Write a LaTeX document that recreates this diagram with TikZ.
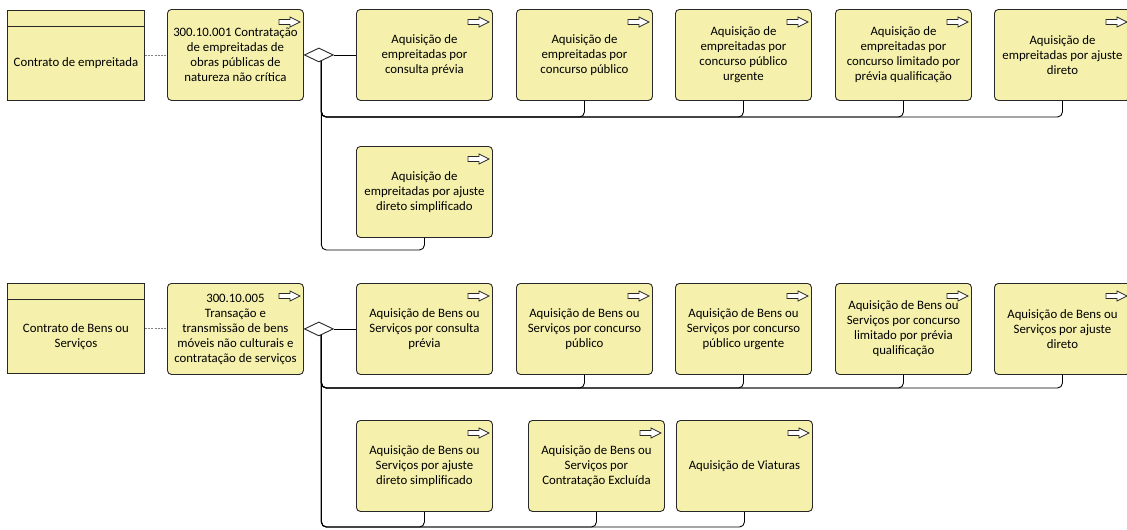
\documentclass[tikz,border=0pt]{standalone}
\usepackage{fontspec}
\setmainfont{Carlito}
\usetikzlibrary{shapes.geometric}
\definecolor{bizfill}{RGB}{245,241,172}
\definecolor{edgecol}{RGB}{40,40,40}
% small hollow "process" arrow in the top right corner of a box
\newcommand\procicon[1]{%
  \draw[fill=white, draw=edgecol, line width=0.8pt]
    ([shift={(-25pt,-10.5pt)}]#1.north east) -- ++(11pt,0pt) -- ++(0pt,2.5pt)
    -- ++(10pt,-5pt) -- ++(-10pt,-5pt) -- ++(0pt,2.5pt) -- ++(-11pt,0pt) -- cycle;}
\begin{document}
\begin{tikzpicture}[x=1pt,y=-1pt,
  txt/.style={font=\fontsize{12.8pt}{15pt}\selectfont, align=center},
  proc/.style={txt, draw=edgecol, line width=0.9pt, fill=bizfill, rounded corners=4pt,
    minimum width=136pt, minimum height=91pt, inner sep=0pt, anchor=north west},
  contract/.style={draw=edgecol, line width=0.9pt, fill=bizfill,
    minimum width=137pt, minimum height=90pt, inner sep=0pt, anchor=north west},
  agg/.style={diamond, draw=edgecol, fill=white, line width=0.9pt,
    minimum width=29pt, minimum height=14pt, inner sep=0pt, anchor=west},
  conn/.style={draw=black, line width=0.9pt, rounded corners=5pt},
  assoc/.style={draw=gray, line width=0.8pt, dash pattern=on 2pt off 1.2pt}]
\useasboundingbox (0,0) rectangle (1127,530);
\clip (0,0) rectangle (1127,530);

% ---------- contract for works ----------
\node[contract] (k1) at (7,10) {};
\draw[edgecol, line width=0.9pt] ([yshift=-16pt]k1.north west) -- ([yshift=-16pt]k1.north east);
\node[txt] (k1t) at ([yshift=-8pt]k1.center) {Contrato de empreitada};

\node[proc] (p1) at (167,9) {300.10.001 Contratação\\de empreitadas de\\obras públicas de\\natureza não crítica};
\node[proc] (a1) at (356,9) {Aquisição de\\empreitadas por\\consulta prévia};
\node[proc] (a2) at (516,9) {Aquisição de\\empreitadas por\\concurso público};
\node[proc] (a3) at (675,9) {Aquisição de\\empreitadas por\\concurso público\\urgente};
\node[proc] (a4) at (835,9) {Aquisição de\\empreitadas por\\concurso limitado por\\prévia qualificação};
\node[proc] (a5) at (994,9) {Aquisição de\\empreitadas por ajuste\\direto};
\node[proc] (r1) at (356,146) {Aquisição de\\empreitadas por ajuste\\direto simplificado};
\foreach \n in {p1,a1,a2,a3,a4,a5,r1} {\procicon{\n}}

\coordinate (h1) at (0,117);
\coordinate (v1) at (0,250);
\draw[assoc] (k1.east) -- (k1.east -| p1.west);
\node[agg] (d1) at (p1.east) {};
\coordinate (s1) at ([xshift=2.5pt,yshift=1.2pt]d1.south);
\draw[conn] (d1.east) -- (a1.west);
\foreach \n in {a2,a3,a4,a5} {\draw[conn] (s1) |- (\n.south |- h1) -- (\n.south);}
\draw[conn] (s1) |- (r1.south |- v1) -- (r1.south);

% ---------- contract for goods and services ----------
\node[contract] (k2) at (7,283) {};
\draw[edgecol, line width=0.9pt] ([yshift=-16pt]k2.north west) -- ([yshift=-16pt]k2.north east);
\node[txt] (k2t) at ([yshift=-8pt]k2.center) {Contrato de Bens ou\\Serviços};

\node[proc] (p2) at (167,283) {300.10.005\\Transação e\\transmissão de bens\\móveis não culturais e\\contratação de serviços};
\node[proc] (b1) at (356,283) {Aquisição de Bens ou\\Serviços por consulta\\prévia};
\node[proc] (b2) at (516,283) {Aquisição de Bens ou\\Serviços por concurso\\público};
\node[proc] (b3) at (675,283) {Aquisição de Bens ou\\Serviços por concurso\\público urgente};
\node[proc] (b4) at (835,283) {Aquisição de Bens ou\\Serviços por concurso\\limitado por prévia\\qualificação};
\node[proc] (b5) at (994,283) {Aquisição de Bens ou\\Serviços por ajuste\\direto};
\node[proc] (c1) at (356,420) {Aquisição de Bens ou\\Serviços por ajuste\\direto simplificado};
\node[proc] (c2) at (528,420) {Aquisição de Bens ou\\Serviços por\\Contratação Excluída};
\node[proc] (c3) at (676,420) {Aquisição de Viaturas};
\foreach \n in {p2,b1,b2,b3,b4,b5,c1,c2,c3} {\procicon{\n}}

\coordinate (h2) at (0,388);
\coordinate (v2) at (0,527);
\draw[assoc] (k2.east) -- (k2.east -| p2.west);
\node[agg] (d2) at (p2.east) {};
\coordinate (s2) at ([xshift=2.5pt,yshift=1.2pt]d2.south);
\draw[conn] (d2.east) -- (b1.west);
\foreach \n in {b2,b3,b4,b5} {\draw[conn] (s2) |- (\n.south |- h2) -- (\n.south);}
\foreach \n in {c1,c2,c3} {\draw[conn] (s2) |- (\n.south |- v2) -- (\n.south);}
\end{tikzpicture}
\end{document}
